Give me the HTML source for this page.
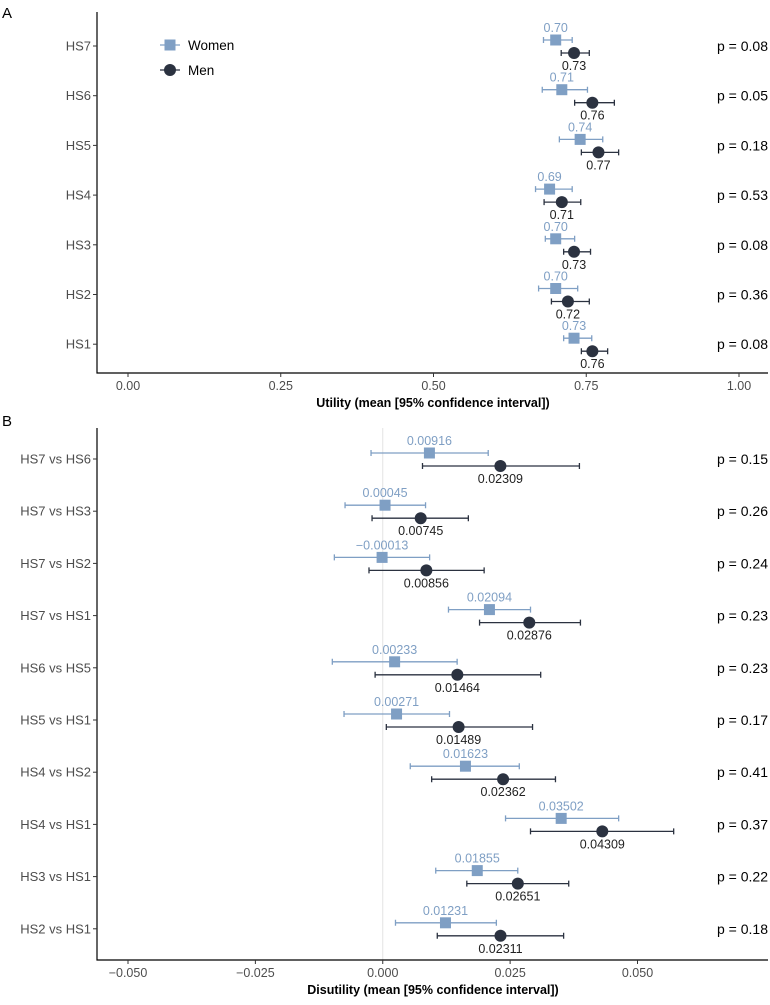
<!DOCTYPE html>
<html><head><meta charset="utf-8"><style>
body{margin:0;background:#fff}
svg{font-family:"Liberation Sans",sans-serif}
</style></head><body>
<svg id="chart" width="770" height="1000" viewBox="0 0 770 1000"></svg>
<script>
const catsA=["HS7","HS6","HS5","HS4","HS3","HS2","HS1"];
const wMeanA=[0.70,0.71,0.74,0.69,0.70,0.70,0.73];
const wLoA=[0.680,0.678,0.706,0.667,0.683,0.672,0.713];
const wHiA=[0.727,0.752,0.777,0.727,0.731,0.736,0.759];
const mMeanA=[0.73,0.76,0.77,0.71,0.73,0.72,0.76];
const mLoA=[0.709,0.731,0.742,0.681,0.713,0.693,0.742];
const mHiA=[0.755,0.796,0.803,0.741,0.757,0.755,0.785];
const pA=["p = 0.08","p = 0.05","p = 0.18","p = 0.53","p = 0.08","p = 0.36","p = 0.08"];
const wLabA=["0.70","0.71","0.74","0.69","0.70","0.70","0.73"];
const mLabA=["0.73","0.76","0.77","0.71","0.73","0.72","0.76"];
const ticksA=[0,0.25,0.5,0.75,1.0];
const tickLabA=["0.00","0.25","0.50","0.75","1.00"];

const catsB=["HS7 vs HS6","HS7 vs HS3","HS7 vs HS2","HS7 vs HS1","HS6 vs HS5","HS5 vs HS1","HS4 vs HS2","HS4 vs HS1","HS3 vs HS1","HS2 vs HS1"];
const wMeanB=[0.00916,0.00045,-0.00013,0.02094,0.00233,0.00271,0.01623,0.03502,0.01855,0.01231];
const wLoB=[-0.0023,-0.0074,-0.0095,0.0129,-0.0099,-0.0076,0.0054,0.0241,0.0104,0.0025];
const wHiB=[0.0207,0.0084,0.0092,0.0290,0.0146,0.0131,0.0268,0.0463,0.0265,0.0223];
const mMeanB=[0.02309,0.00745,0.00856,0.02876,0.01464,0.01489,0.02362,0.04309,0.02651,0.02311];
const mLoB=[0.0078,-0.0021,-0.0027,0.0190,-0.0015,0.0007,0.0096,0.0290,0.0165,0.0107];
const mHiB=[0.0386,0.0168,0.0199,0.0388,0.0310,0.0294,0.0339,0.0571,0.0365,0.0355];
const pB=["p = 0.15","p = 0.26","p = 0.24","p = 0.23","p = 0.23","p = 0.17","p = 0.41","p = 0.37","p = 0.22","p = 0.18"];
const wLabB=["0.00916","0.00045","\u22120.00013","0.02094","0.00233","0.00271","0.01623","0.03502","0.01855","0.01231"];
const mLabB=["0.02309","0.00745","0.00856","0.02876","0.01464","0.01489","0.02362","0.04309","0.02651","0.02311"];
const ticksB=[-0.05,-0.025,0,0.025,0.05];
const tickLabB=["\u22120.050","\u22120.025","0.000","0.025","0.050"];

const svg=document.getElementById('chart');
const NS="http://www.w3.org/2000/svg";
const WC="#7f9fc4", MC="#2b3240";
function mk(tag,attrs,txt){const e=document.createElementNS(NS,tag);for(const k in attrs)e.setAttribute(k,attrs[k]);if(txt!==undefined)e.textContent=txt;svg.appendChild(e);return e;}

function panel(o){
  const xs=v=>o.x0+(v-o.vmin)*o.scale;
  const ys=i=>o.yTop+i*o.step;
  if(o.zero){const g=mk('line',{x1:xs(0),x2:xs(0),y1:o.axTop,y2:o.axBot,stroke:'#e3e3e3','stroke-width':1});
    }
  let e=mk('line',{x1:97,x2:97,y1:o.axTop,y2:o.axBot+0.5,stroke:'#000','stroke-width':1.2});
  
  e=mk('line',{x1:96.5,x2:768,y1:o.axBot,y2:o.axBot,stroke:'#000','stroke-width':1.2});
  
  o.ticks.forEach((t,i)=>{
    let l=mk('line',{x1:xs(t),x2:xs(t),y1:o.axBot,y2:o.axBot+4,stroke:'#333'});
    
    let tx=mk('text',{x:xs(t),y:o.axBot+17,'text-anchor':'middle','font-size':12.5,fill:'#4d4d4d'},o.tickLab[i]);
    
  });
  let tt=mk('text',{x:433,y:o.axBot+34,'text-anchor':'middle','font-size':12.5,'font-weight':'bold',fill:'#000'},o.title);
  
  o.cats.forEach((c,i)=>{
    const y=ys(i);
    let l=mk('line',{x1:93,x2:97,y1:y,y2:y,stroke:'#333'});
    
    let t=mk('text',{x:91,y:y+4.5,'text-anchor':'end','font-size':13,fill:'#4d4d4d'},c);
    
    const yw=y-6, ym=y+7;
    let b=mk('path',{d:`M${xs(o.wLo[i])},${yw}H${xs(o.wHi[i])}M${xs(o.wLo[i])},${yw-3}V${yw+3}M${xs(o.wHi[i])},${yw-3}V${yw+3}`,stroke:WC,'stroke-width':1.3,fill:'none'});
    
    let s=mk('rect',{x:xs(o.wMean[i])-5.5,y:yw-5.5,width:11,height:11,fill:WC});
    
    let wl=mk('text',{x:xs(o.wMean[i]),y:yw-8,'text-anchor':'middle','font-size':12.5,fill:WC},o.wLab[i]);
    
    b=mk('path',{d:`M${xs(o.mLo[i])},${ym}H${xs(o.mHi[i])}M${xs(o.mLo[i])},${ym-3}V${ym+3}M${xs(o.mHi[i])},${ym-3}V${ym+3}`,stroke:MC,'stroke-width':1.3,fill:'none'});
    
    let c2=mk('circle',{cx:xs(o.mMean[i]),cy:ym,r:6,fill:MC});
    
    let ml=mk('text',{x:xs(o.mMean[i]),y:ym+17,'text-anchor':'middle','font-size':12.5,fill:'#222'},o.mLab[i]);
    
    let p=mk('text',{x:768,y:y+5,'text-anchor':'end','font-size':14,fill:'#000'},o.p[i]);
    
  });
}
let pl=mk('text',{x:2,y:18,'font-size':15,fill:'#000'},'A');

pl=mk('text',{x:2,y:426,'font-size':15,fill:'#000'},'B');


// legend
let lg=mk('path',{d:'M160,45H178M160,70H178',stroke:'none'});

lg=mk('path',{d:'M160,45H180',stroke:WC,'stroke-width':1.3});

lg=mk('rect',{x:164.5,y:39.5,width:11,height:11,fill:WC});

lg=mk('text',{x:188,y:50,'font-size':13.5,fill:'#000'},'Women');

lg=mk('path',{d:'M160,70H180',stroke:MC,'stroke-width':1.3});

lg=mk('circle',{cx:170,cy:70,r:6,fill:MC});

lg=mk('text',{x:188,y:75,'font-size':13.5,fill:'#000'},'Men');


panel({x0:128,vmin:0,scale:611,yTop:46,step:49.7,axTop:12,axBot:373,zero:false,cats:catsA,
  wMean:wMeanA,wLo:wLoA,wHi:wHiA,mMean:mMeanA,mLo:mLoA,mHi:mHiA,p:pA,wLab:wLabA,mLab:mLabA,
  ticks:ticksA,tickLab:tickLabA,title:'Utility (mean [95% confidence interval])'});
panel({x0:128,vmin:-0.05,scale:5095,yTop:459,step:52.2,axTop:428,axBot:960,zero:true,cats:catsB,
  wMean:wMeanB,wLo:wLoB,wHi:wHiB,mMean:mMeanB,mLo:mLoB,mHi:mHiB,p:pB,wLab:wLabB,mLab:mLabB,
  ticks:ticksB,tickLab:tickLabB,title:'Disutility (mean [95% confidence interval])'});
</script>
</body></html>
